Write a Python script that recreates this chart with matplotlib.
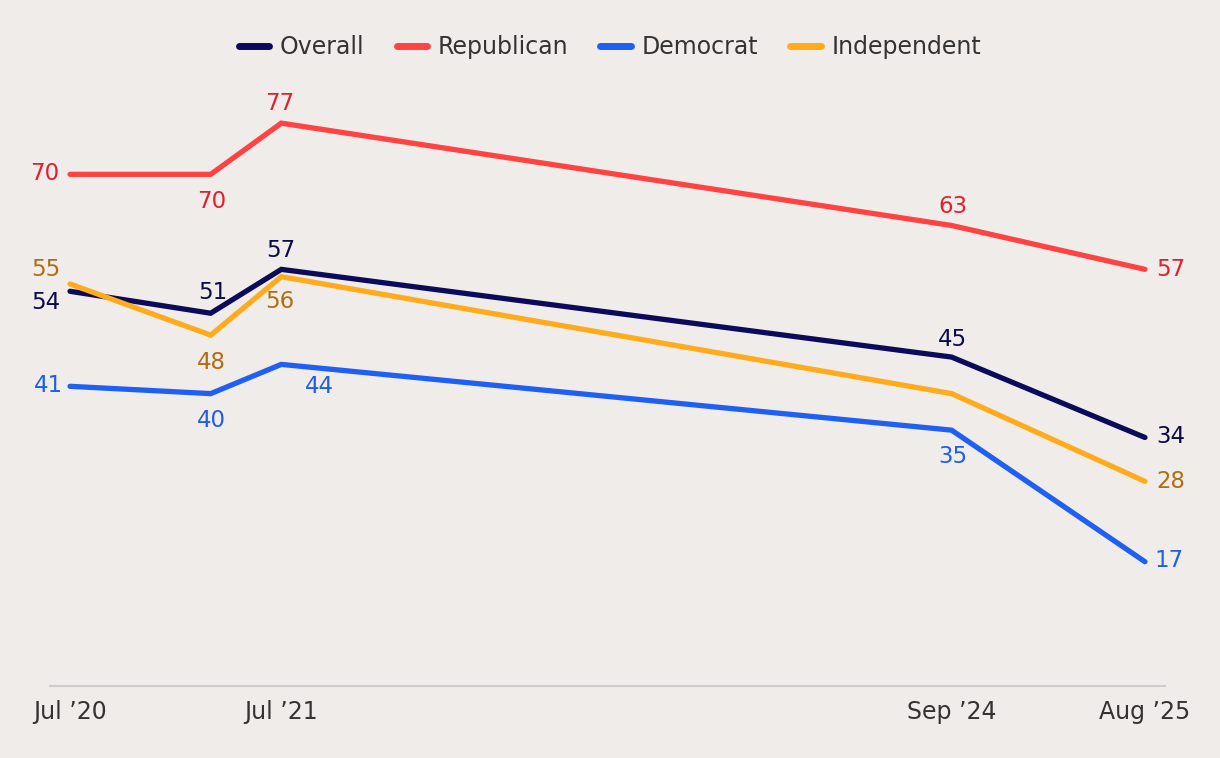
import matplotlib
matplotlib.use("Agg")
import matplotlib.pyplot as plt
import matplotlib.dates as mdates
from datetime import date

plt.rcParams['font.family'] = ['DejaVu Sans']

dates = [date(2020, 7, 1), date(2021, 3, 1), date(2021, 7, 1), date(2024, 9, 1), date(2025, 8, 1)]
tick_dates = [date(2020, 7, 1), date(2021, 7, 1), date(2024, 9, 1), date(2025, 8, 1)]
tick_labels = ["Jul \u201920", "Jul \u201921", "Sep \u201924", "Aug \u201925"]

series_names = ["Overall", "Republican", "Democrat", "Independent"]
overall = [54, 51, 57, 45, 34]
republican = [70, 70, 77, 63, 57]
democrat = [41, 40, 44, 35, 17]
independent = [55, 48, 56, 40, 28]
values = [overall, republican, democrat, independent]

line_colors = ["#0b0b5a", "#ff4242", "#1f5ff2", "#ffab1c"]
text_colors = ["#0b0b4a", "#e0202e", "#1f5fe6", "#b06e10"]

# label placement (dx, dy in pixels, ha); None = no label
placements = [
    [(-24, -11, 'center'), (2, 21, 'center'), (-1, 19, 'center'), (1, 18, 'center'), (11, 1, 'left')],
    [(-25, 1, 'center'), (1, -27, 'center'), (-2, 20, 'center'), (1, 19, 'center'), (11, 0, 'left')],
    [(-22, 1, 'center'), (1, -27, 'center'), (38, -22, 'center'), (1, -26, 'center'), (9, 1, 'left')],
    [(-24, 14, 'center'), (1, -27, 'center'), (-2, -25, 'center'), None, (11, 0, 'left')],
]

bg = "#f0ecea"
W, H = 1220, 758
fig = plt.figure(figsize=(W / 100, H / 100), dpi=100, facecolor=bg)
ax = fig.add_axes([50 / W, (H - 686) / H, (1165 - 50) / W, (686 - 72) / H])
ax.set_facecolor(bg)

xd = mdates.date2num(dates)
for vals, lc, tc, pl, name in zip(values, line_colors, text_colors, placements, series_names):
    ax.plot(xd, vals, color=lc, lw=3.8, solid_capstyle='round', solid_joinstyle='miter', label=name)
    for x, v, p in zip(xd, vals, pl):
        if p is None:
            continue
        dx, dy, ha = p
        ax.annotate(str(v), (x, v), xytext=(dx * 0.72, dy * 0.72), textcoords='offset points',
                    ha=ha, va='center', color=tc, fontsize=16.5)

x0 = mdates.date2num(date(2020, 7, 1))
x1 = mdates.date2num(date(2025, 8, 1))
pad = (x1 - x0) * 20 / 1073
ax.set_xlim(x0 - pad, x1 + pad)
ax.set_ylim(0, 84)

ax.set_xticks(mdates.date2num(tick_dates))
ax.set_xticklabels(tick_labels, fontsize=17, color="#333333")
ax.tick_params(axis='x', length=0, pad=10)
ax.set_yticks([])
for s in ['top', 'right', 'left']:
    ax.spines[s].set_visible(False)
ax.spines['bottom'].set_color("#cccccc")
ax.spines['bottom'].set_linewidth(1.5)

leg = fig.legend(loc='center', bbox_to_anchor=(610 / W, 1 - 47 / H), ncol=4, frameon=False,
                 fontsize=17, handlelength=1.3, handletextpad=0.45, columnspacing=1.35)
for t in leg.get_texts():
    t.set_color("#333333")
for h in leg.get_lines():
    h.set_linewidth(5)
    h.set_solid_capstyle('round')

fig.savefig("out.png", dpi=100, facecolor=bg)
